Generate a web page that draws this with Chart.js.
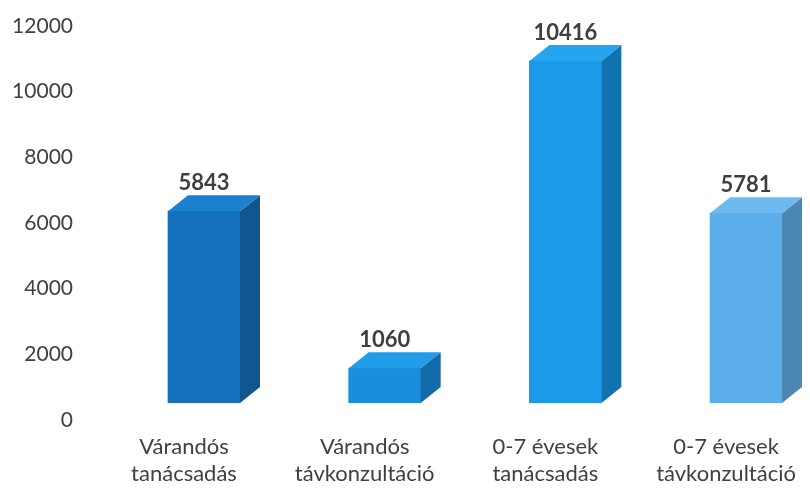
<!DOCTYPE html>
<html>
<head>
<meta charset="utf-8">
<script src="https://cdn.jsdelivr.net/npm/chart.js@4/dist/chart.umd.min.js"></script>
<style>
  html, body { margin: 0; padding: 0; background: #fff; }
  #wrap { width: 810px; height: 490px; }
</style>
</head>
<body>
<div id="wrap"><canvas id="chart"></canvas></div>
<script>
var categories = ['Várandós tanácsadás', 'Várandós távkonzultáció', '0-7 évesek tanácsadás', '0-7 évesek távkonzultáció'];
var values = [5843, 1060, 10416, 5781];
var yTicks = [0, 2000, 4000, 6000, 8000, 10000, 12000];

var frontColors = ['#1570be', '#1a8ddc', '#1a9ae8', '#5baeea'];
var sideColors = ['#10568f', '#126aa8', '#1272b0', '#4c86b2'];
var topColors = ['#1b80cd', '#209ce8', '#24a5ee', '#6cbaef'];

// split "Várandós tanácsadás" into two lines
function twoLines(s) {
    var i = s.indexOf(' ', 4);
    return [s.slice(0, i), s.slice(i + 1)];
}

var depthX = 20, depthY = -16;

var box3d = {
    id: 'box3d',
    afterDatasetsDraw: function (chart) {
        var ctx = chart.ctx;
        var meta = chart.getDatasetMeta(0);
        meta.data.forEach(function (bar, i) {
            var l = bar.x - bar.width / 2, r = bar.x + bar.width / 2;
            var t = bar.y, b = bar.base;
            ctx.save();
            // side face
            ctx.fillStyle = sideColors[i];
            ctx.beginPath();
            ctx.moveTo(r, t);
            ctx.lineTo(r + depthX, t + depthY);
            ctx.lineTo(r + depthX, b + depthY);
            ctx.lineTo(r, b);
            ctx.closePath();
            ctx.fill();
            // top face
            ctx.fillStyle = topColors[i];
            ctx.beginPath();
            ctx.moveTo(l, t);
            ctx.lineTo(l + depthX, t + depthY);
            ctx.lineTo(r + depthX, t + depthY);
            ctx.lineTo(r, t);
            ctx.closePath();
            ctx.fill();
            // value label
            ctx.fillStyle = '#3f3f3f';
            ctx.font = 'bold 22px Lato';
            ctx.textAlign = 'center';
            ctx.textBaseline = 'middle';
            ctx.fillText(String(values[i]), bar.x, t - 28);
            ctx.restore();
        });
    }
};

new Chart(document.getElementById('chart'), {
    type: 'bar',
    data: {
        datasets: [{
            data: values.map(function (v, i) { return { x: i, y: v }; }),
            backgroundColor: frontColors,
            borderWidth: 0,
            barThickness: 72
        }]
    },
    options: {
        responsive: true,
        maintainAspectRatio: false,
        animation: false,
        layout: { padding: { top: 9, left: 0, right: 0, bottom: 0 } },
        plugins: { legend: { display: false }, tooltip: { enabled: false } },
        scales: {
            x: {
                type: 'linear',
                offset: false,
                min: -0.6033,
                max: 3.354,
                grid: { display: false, drawTicks: false },
                border: { display: false },
                afterFit: function (s) { s.height = 87; s.paddingLeft = 0; s.paddingRight = 0; },
                ticks: {
                    stepSize: 1,
                    includeBounds: false,
                    autoSkip: false,
                    maxRotation: 0,
                    padding: 30,
                    labelOffset: -20,
                    color: '#404040',
                    font: { family: 'Lato', size: 22, lineHeight: 1.25 },
                    callback: function (v) {
                        return categories[v] !== undefined ? twoLines(categories[v]) : '';
                    }
                }
            },
            y: {
                min: 0,
                max: 12000,
                grid: { display: false, drawTicks: false },
                border: { display: false },
                afterFit: function (s) { s.width = 95; s.paddingTop = 0; s.paddingBottom = 0; },
                afterBuildTicks: function (s) {
                    s.ticks = yTicks.map(function (v) { return { value: v }; });
                },
                ticks: {
                    padding: 22,
                    labelOffset: 17,
                    color: '#404040',
                    font: { family: 'Lato', size: 21 },
                    callback: function (v) { return String(v); }
                }
            }
        }
    },
    plugins: [box3d]
});
</script>
</body>
</html>
